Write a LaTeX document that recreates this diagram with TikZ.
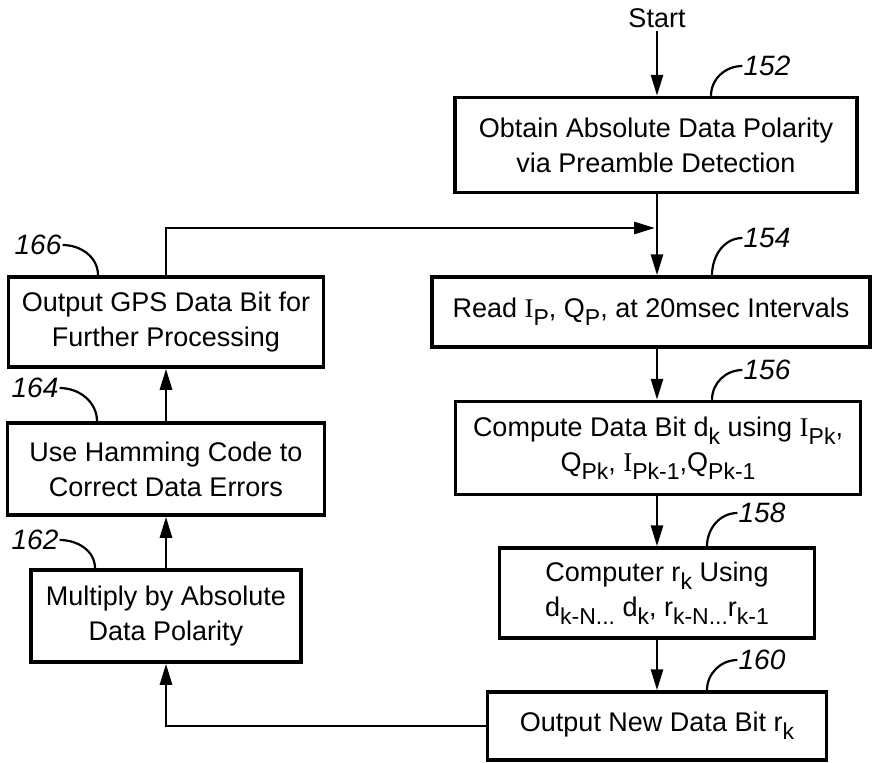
\documentclass[tikz,border=0pt]{standalone}
\usepackage{fontspec}
\setmainfont{Liberation Sans}
\newfontfamily\romI{Liberation Serif}
\usetikzlibrary{positioning}
\usetikzlibrary{arrows.meta}
\tikzset{
    cell/.style = {rectangle, line width=3.5pt, draw=black, align=center, inner xsep=2pt, inner ysep=4pt, font=\fontsize{27}{35}\selectfont},
    edgen/.style = {-{Triangle[length=21pt,width=12pt]}, line width=2.8pt},
    lead/.style = {line width=2.2pt},
    num/.style = {font=\fontsize{28}{28}\selectfont\itshape, inner sep=1pt},
}
\newcommand{\Sb}[1]{\raisebox{-0.55ex}{\fontsize{23}{23}\selectfont #1}}
\newcommand{\Ip}{{\romI I}}

\begin{document}
\begin{tikzpicture}[x=1pt,y=-1pt]
\useasboundingbox (0,0) rectangle (873,763);

\node[font=\fontsize{27}{30}\selectfont] at (657,18) (start) {Start};

\node[cell, minimum width=402pt, minimum height=95pt] at (656,145) (b152) {Obtain Absolute Data Polarity\\via Preamble Detection};
\node[cell, minimum width=438pt, minimum height=70pt] at (651,312) (b154) {Read \Ip\Sb{P}, Q\Sb{P}, at 20msec Intervals};
\node[cell, minimum width=405pt, minimum height=93pt] at (658,448) (b156) {Compute Data Bit d\Sb{k} using \Ip\Sb{Pk},\\Q\Sb{Pk}, \Ip\Sb{Pk-1},Q\Sb{Pk-1}};
\node[cell, minimum width=315pt, minimum height=90pt] at (657,593) (b158) {Computer r\Sb{k} Using\\d\Sb{k-N...} d\Sb{k}, r\Sb{k-N...}r\Sb{k-1}};
\node[cell, minimum width=339pt, minimum height=68pt] at (657,726) (b160) {Output New Data Bit r\Sb{k}};
%
\node[cell, minimum width=270pt, minimum height=92pt] at (166,616) (b162) {Multiply by Absolute\\Data Polarity};
\node[cell, minimum width=317pt, minimum height=92pt] at (166,469) (b164) {Use Hamming Code to\\Correct Data Errors};
\node[cell, minimum width=315pt, minimum height=90pt] at (166,322) (b166) {Output GPS Data Bit for\\Further Processing};

% reference numerals
\node[num] at (767,66) (l152) {152};
\node[num] at (767,238) (l154) {154};
\node[num] at (767,370) (l156) {156};
\node[num] at (762,513) (l158) {158};
\node[num] at (762,660) (l160) {160};
\node[num] at (38,245) (l166) {166};
\node[num] at (35,388) (l164) {164};
\node[num] at (35,540) (l162) {162};
\coordinate (m) at (655,228);

\draw[edgen] (start) -- (b152.north -| start);
\draw[edgen] (b152.south -| start) -- (b154.north -| start);
\draw[edgen] (b154.south -| start) -- (b156.north -| start);
\draw[edgen] (b156.south -| start) -- (b158.north -| start);
\draw[edgen] (b158.south -| start) -- (b160.north -| start);
\draw[edgen] (b160.west) -| (b162.south);
\draw[edgen] (b162) -- (b164);
\draw[edgen] (b164) -- (b166);
\draw[edgen] (b166.north) |- (m);

\draw[lead] (l152.west) to[out=180,in=90] ([xshift=55pt]b152.north);
\draw[lead] (l154.west) to[out=180,in=90] ([xshift=61pt]b154.north);
\draw[lead] (l156.west) to[out=180,in=90] ([xshift=54pt]b156.north);
\draw[lead] (l158.west) to[out=180,in=90] ([xshift=50pt]b158.north);
\draw[lead] (l160.west) to[out=180,in=90] ([xshift=50pt]b160.north);
\draw[lead] (l166.east) to[out=0,in=90] ([xshift=-68pt]b166.north);
\draw[lead] (l164.east) to[out=0,in=90] ([xshift=-69pt]b164.north);
\draw[lead] (l162.east) to[out=0,in=90] ([xshift=-71pt]b162.north);

\end{tikzpicture}
\end{document}
